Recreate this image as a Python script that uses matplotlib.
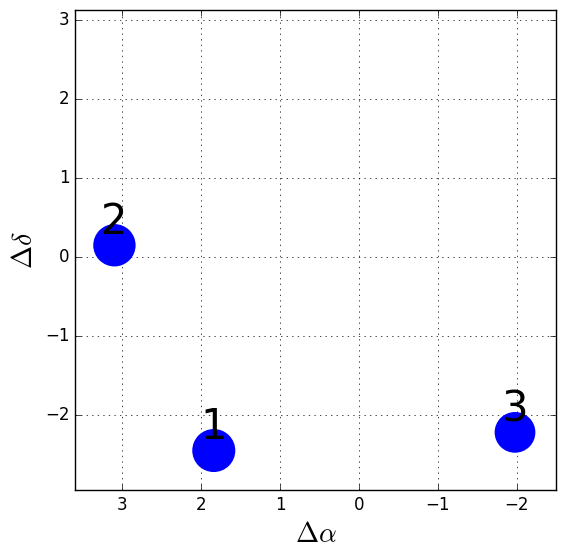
import matplotlib
matplotlib.use("Agg")
import matplotlib.pyplot as plt

# offsets of the three sources
d_alpha = [1.84, 3.10, -1.98]
d_delta = [-2.45, 0.15, -2.22]
labels = ["1", "2", "3"]
sizes = [960, 930, 860]

plt.style.use('classic')
fig = plt.figure(figsize=(5.65, 5.58), dpi=100, facecolor='white')
ax = fig.add_axes([75/565, 1 - 490/558, 481/565, 480/558])

ax.scatter(d_alpha, d_delta, s=sizes, c='b', edgecolors='none', zorder=3)
for x, y, lab in zip(d_alpha, d_delta, labels):
    ax.text(x, y + 0.14, lab, fontsize=30, ha='center', va='baseline', zorder=4)

ax.set_xlim(3.6, -2.5)
ax.set_ylim(-2.95, 3.13)
ax.set_xticks([3, 2, 1, 0, -1, -2])
ax.set_yticks([-2, -1, 0, 1, 2, 3])
ax.grid(True)
ax.set_xlabel(r'$\Delta\alpha$', fontsize=20)
ax.set_ylabel(r'$\Delta\delta$', fontsize=20)

fig.savefig("out.png", dpi=100, facecolor='white')
